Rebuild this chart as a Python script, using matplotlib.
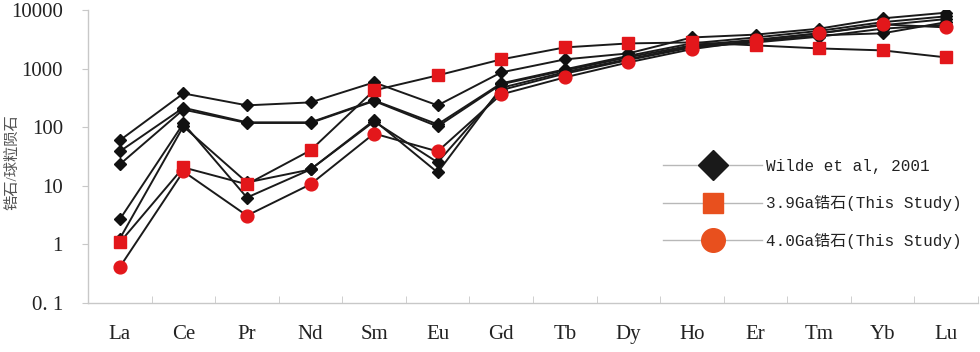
import matplotlib
matplotlib.use("Agg")
import matplotlib.pyplot as plt
from matplotlib.lines import Line2D
from matplotlib.ticker import FixedLocator, NullFormatter

elements = ['La', 'Ce', 'Pr', 'Nd', 'Sm', 'Eu', 'Gd', 'Tb', 'Dy', 'Ho', 'Er', 'Tm', 'Yb', 'Lu']

wilde_1 = [59.6, 377, 236, 265, 582, 236, 861, 1435, 1817, 3400, 3800, 4800, 7200, 9000]
wilde_2 = [38.6, 215, 121, 121, 287, 112, 560, 970, 1650, 2700, 3400, 4400, 6200, 7800]
wilde_3 = [23.2, 200, 118, 118, 280, 103, 540, 930, 1560, 2500, 3100, 4000, 5500, 7000]
wilde_4 = [2.67, 116, 6.3, 19.0, 131, 16.9, 470, 870, 1450, 2400, 2900, 3700, 4000, 6200]
wilde_5 = [1.25, 103, 11.4, 19.0, 125, 25.1, 430, 820, 1400, 2300, 2800, 3500, 4800, 5600]
wilde_series = [wilde_1, wilde_2, wilde_3, wilde_4, wilde_5]

zircon_39 = [1.08, 20.6, 10.6, 40.2, 425, 766, 1435, 2300, 2690, 2800, 2490, 2210, 2045, 1553]
zircon_40 = [0.41, 17.6, 3.1, 10.6, 78, 38.6, 363, 708, 1276, 2150, 3030, 3990, 5680, 5050]

y_ticks = [0.1, 1, 10, 100, 1000, 10000]
y_tick_labels = ['0. 1', '1', '10', '100', '1000', '10000']

legend_labels = ['Wilde et al, 2001', '3.9Ga锆石(This Study)', '4.0Ga锆石(This Study)']
y_label = '锆石/球粒陨石'

serif = ['Liberation Serif', 'Noto Sans CJK SC']
mono = ['Liberation Mono', 'Noto Sans CJK SC']

fig = plt.figure(figsize=(9.8, 3.52), dpi=100)
ax = fig.add_axes([88 / 980, 1 - 303 / 352, 890 / 980, 293 / 352])

x = list(range(len(elements)))
red = '#e3171b'
for s in wilde_series:
    ax.plot(x, s, color='#1a1a1a', lw=1.4, marker='D', ms=5.8,
            mfc='#111111', mec='#111111', zorder=2)
ax.plot(x, zircon_39, color='#1a1a1a', lw=1.4, marker='s', ms=8.6,
        mfc=red, mec=red, zorder=3)
ax.plot(x, zircon_40, color='#1a1a1a', lw=1.4, marker='o', ms=9.2,
        mfc=red, mec=red, zorder=4)

ax.set_yscale('log')
ax.set_ylim(0.1, 10000)
ax.set_xlim(-0.5, len(elements) - 0.5)

ax.yaxis.set_major_locator(FixedLocator(y_ticks))
ax.yaxis.set_minor_locator(FixedLocator([]))
ax.set_yticklabels(y_tick_labels, fontfamily=serif, fontsize=15, color='#222222')
ax.tick_params(axis='y', which='major', direction='out', length=4,
               color='#c8c8c8', pad=14)

ax.set_xticks(x)
ax.set_xticklabels(elements, fontfamily=serif, fontsize=15, color='#222222')
ax.xaxis.set_minor_locator(FixedLocator([i - 0.5 for i in range(len(elements) + 1)]))
ax.xaxis.set_minor_formatter(NullFormatter())
ax.tick_params(axis='x', which='major', length=0, pad=16)
ax.tick_params(axis='x', which='minor', direction='in', length=5, color='#c8c8c8')

for side in ['top', 'right']:
    ax.spines[side].set_visible(False)
for side in ['left', 'bottom']:
    ax.spines[side].set_color('#c8c8c8')
    ax.spines[side].set_linewidth(1.0)

fig.text(12 / 980, 1 - 162 / 352, y_label, rotation=90, ha='center', va='center',
         fontsize=11, color='#555555', family=serif)

leg_color = '#e8501e'
handles = [
    Line2D([], [], color='#b8b8b8', lw=1, marker='D', ms=15, mfc='#1a1a1a', mec='#1a1a1a'),
    Line2D([], [], color='#b8b8b8', lw=1, marker='s', ms=15, mfc=leg_color, mec=leg_color),
    Line2D([], [], color='#b8b8b8', lw=1, marker='o', ms=17, mfc=leg_color, mec=leg_color),
]
leg = ax.legend(handles, legend_labels, loc='upper left',
                bbox_to_anchor=(655 / 980, 1 - 151 / 352), bbox_transform=fig.transFigure,
                frameon=False, handlelength=6.2, handletextpad=0.25,
                labelspacing=1.33, prop={'family': mono, 'size': 11.5}, borderpad=0)
for t in leg.get_texts():
    t.set_color('#222222')

fig.savefig('out.png', dpi=100)
